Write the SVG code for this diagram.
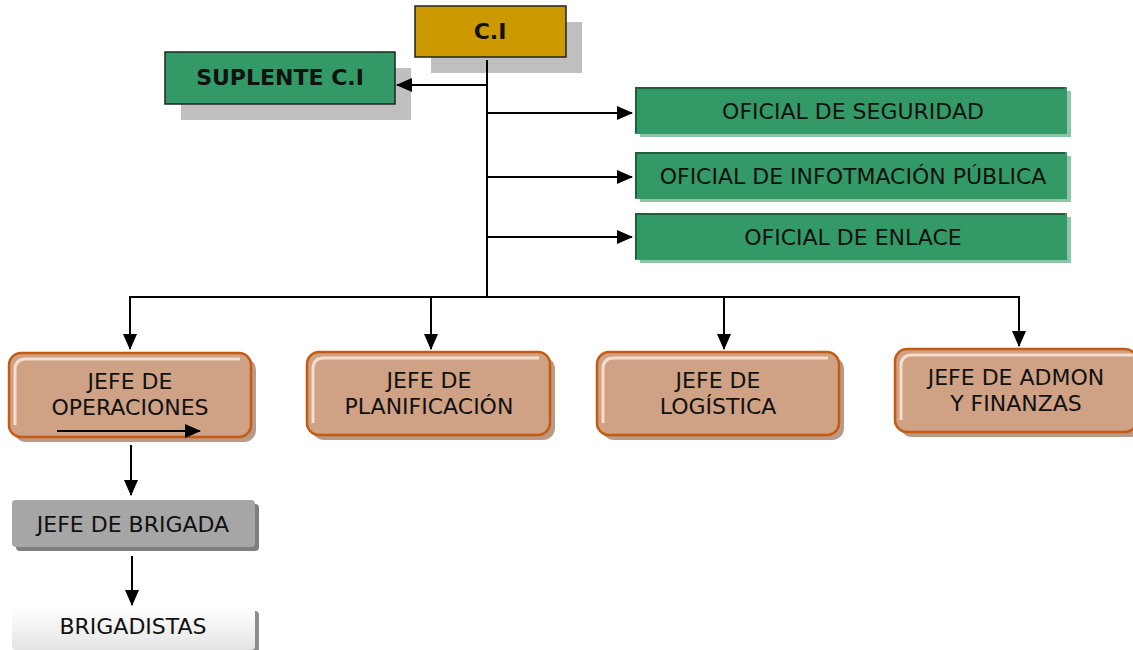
<svg xmlns="http://www.w3.org/2000/svg" width="1133" height="650" viewBox="0 0 1133 650">
<defs>
<style>
.t{font-family:"DejaVu Sans","Verdana",sans-serif;font-size:22px;fill:#111;text-anchor:middle}
.b{font-weight:bold}
.shg{fill:#BFBFBF}
.of{fill:#339966}
.ofsh{fill:#8CC6A4}
.ofb{fill:#1E5F3C}
.jf{fill:#CFA185;stroke:#C55A11;stroke-width:2.5}
.jsh{fill:#B99A86}
.jhl{fill:none;stroke:#F6DDCC;stroke-width:3}
.ln{stroke:#000;stroke-width:2;fill:none}
</style>
<marker id="ah2" markerWidth="16" markerHeight="14" refX="15" refY="7" orient="auto" markerUnits="userSpaceOnUse" viewBox="0 0 16 14">
<path d="M0,0 L16,7 L0,14 z" fill="#000"/>
</marker>
<linearGradient id="wg" x1="0" y1="0" x2="0" y2="1">
<stop offset="0" stop-color="#FFFFFF"/>
<stop offset="1" stop-color="#E4E4E4"/>
</linearGradient>
</defs>

<g id="ci">
<rect class="shg" x="431" y="22" width="151" height="51"/>
<rect x="415" y="6" width="151" height="51" fill="#CC9900" stroke="#222" stroke-width="1.5"/>
<text class="t b" x="490" y="39">C.I</text>
</g>

<g id="suplente">
<rect class="shg" x="181" y="68" width="230" height="52"/>
<rect x="165" y="52" width="230" height="52" fill="#339966" stroke="#222" stroke-width="1.5"/>
<text class="t b" x="280" y="85">SUPLENTE C.I</text>
</g>

<g id="oficial-seguridad">
<rect class="ofsh" x="640" y="91" width="431" height="46"/>
<rect class="of" x="635" y="87" width="432" height="47"/>
<path class="ofb" d="M635,87 H1065 V89 H637 V133 H635 z"/>
<text class="t" x="853" y="119">OFICIAL DE SEGURIDAD</text>
</g>

<g id="oficial-informacion">
<rect class="ofsh" x="640" y="156" width="431" height="46"/>
<rect class="of" x="635" y="152" width="432" height="47"/>
<path class="ofb" d="M635,152 H1065 V154 H637 V198 H635 z"/>
<text class="t" x="853" y="184">OFICIAL DE INFOTMACIÓN PÚBLICA</text>
</g>

<g id="oficial-enlace">
<rect class="ofsh" x="640" y="217" width="431" height="46"/>
<rect class="of" x="635" y="213" width="432" height="47"/>
<path class="ofb" d="M635,213 H1065 V215 H637 V259 H635 z"/>
<text class="t" x="853" y="245">OFICIAL DE ENLACE</text>
</g>

<g id="jefe-operaciones">
<rect class="jsh" x="14" y="358" width="242" height="84" rx="12"/>
<rect class="jf" x="9" y="353" width="242" height="84" rx="12"/>
<path class="jhl" d="M15,425 V370 Q15,359 26,359 H240"/>
<text class="t" x="130" y="389">JEFE DE</text>
<text class="t" x="130" y="415">OPERACIONES</text>
</g>

<g id="jefe-planificacion">
<rect class="jsh" x="312" y="357" width="243" height="83" rx="12"/>
<rect class="jf" x="307" y="352" width="243" height="83" rx="12"/>
<path class="jhl" d="M313,423 V369 Q313,358 324,358 H539"/>
<text class="t" x="429" y="388">JEFE DE</text>
<text class="t" x="429" y="414">PLANIFICACIÓN</text>
</g>

<g id="jefe-logistica">
<rect class="jsh" x="602" y="357" width="242" height="83" rx="12"/>
<rect class="jf" x="597" y="352" width="242" height="83" rx="12"/>
<path class="jhl" d="M603,423 V369 Q603,358 614,358 H828"/>
<text class="t" x="718" y="388">JEFE DE</text>
<text class="t" x="718" y="414">LOGÍSTICA</text>
</g>

<g id="jefe-admon">
<rect class="jsh" x="900" y="354" width="242" height="83" rx="12"/>
<rect class="jf" x="895" y="349" width="242" height="83" rx="12"/>
<path class="jhl" d="M901,420 V366 Q901,355 912,355 H1133"/>
<text class="t" x="1016" y="385">JEFE DE ADMON</text>
<text class="t" x="1016" y="411">Y FINANZAS</text>
</g>

<g id="jefe-brigada">
<rect x="16" y="504" width="243" height="47" rx="4" fill="#7F7F7F"/>
<rect x="12" y="500" width="243" height="47" rx="4" fill="#A6A6A6"/>
<text class="t" x="133" y="532">JEFE DE BRIGADA</text>
</g>

<g id="brigadistas">
<rect x="16" y="611" width="243" height="43" rx="4" fill="#8C8C8C"/>
<rect x="12" y="607" width="243" height="43" rx="4" fill="url(#wg)"/>
<text class="t" x="133" y="634">BRIGADISTAS</text>
</g>

<g id="connectors">
<line class="ln" x1="487" y1="60" x2="487" y2="297"/>
<line class="ln" x1="487" y1="85" x2="397" y2="85" marker-end="url(#ah2)"/>
<line class="ln" x1="487" y1="113" x2="632" y2="113" marker-end="url(#ah2)"/>
<line class="ln" x1="487" y1="177" x2="632" y2="177" marker-end="url(#ah2)"/>
<line class="ln" x1="487" y1="237" x2="632" y2="237" marker-end="url(#ah2)"/>
<line class="ln" x1="129" y1="297" x2="1020" y2="297"/>
<line class="ln" x1="130" y1="297" x2="130" y2="349" marker-end="url(#ah2)"/>
<line class="ln" x1="431" y1="297" x2="431" y2="349" marker-end="url(#ah2)"/>
<line class="ln" x1="724" y1="297" x2="724" y2="349" marker-end="url(#ah2)"/>
<line class="ln" x1="1019" y1="297" x2="1019" y2="346" marker-end="url(#ah2)"/>
<line class="ln" x1="57" y1="431" x2="200" y2="431" marker-end="url(#ah2)"/>
<line class="ln" x1="131" y1="445" x2="131" y2="495" marker-end="url(#ah2)"/>
<line class="ln" x1="132" y1="556" x2="132" y2="605" marker-end="url(#ah2)"/>
</g>
</svg>
